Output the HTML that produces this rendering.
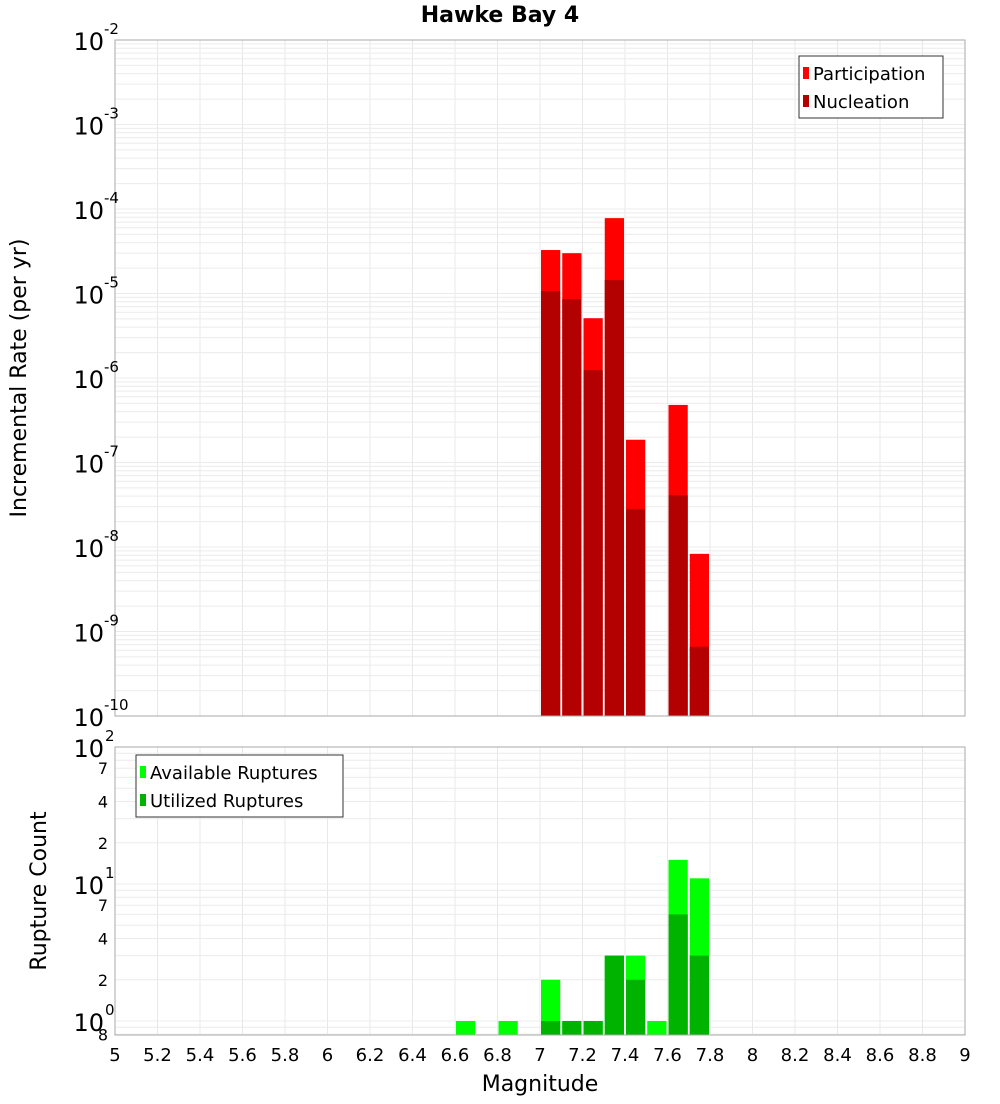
<!DOCTYPE html>
<html><head><meta charset="utf-8"><style>
body{margin:0;background:#fff;font-family:"DejaVu Sans","Liberation Sans",sans-serif}
svg text{font-family:"DejaVu Sans","Liberation Sans",sans-serif}
</style></head><body>
<svg id="c" width="1000" height="1100" xmlns="http://www.w3.org/2000/svg"></svg>
<script>
const binCenters=[7.05,7.15,7.25,7.35,7.45,7.65,7.75];
const participation=[3.27e-5,3.0e-5,5.1e-6,7.8e-5,1.86e-7,4.8e-7,8.3e-9];
const nucleation=[1.07e-5,8.6e-6,1.24e-6,1.44e-5,2.8e-8,4.1e-8,6.6e-10];
const countCenters=[6.65,6.85,7.05,7.15,7.25,7.35,7.45,7.55,7.65,7.75];
const available=[1,1,2,1,1,3,3,1,15,11];
const utilized=[0,0,1,1,1,3,2,0,6,3];
const xTicks=[5,5.2,5.4,5.6,5.8,6,6.2,6.4,6.6,6.8,7,7.2,7.4,7.6,7.8,8,8.2,8.4,8.6,8.8,9];
const topExps=[-2,-3,-4,-5,-6,-7,-8,-9,-10];
const botTicks=[[100,"10","2"],[70,"7"],[40,"4"],[20,"2"],[10,"10","1"],[7,"7"],[4,"4"],[2,"2"],[1,"10","0"],[0.8,"8"]];

const S="http://www.w3.org/2000/svg",svg=document.getElementById('c');
function el(t,a,p){const e=document.createElementNS(S,t);for(const k in a)e.setAttribute(k,a[k]);(p||svg).appendChild(e);return e;}
const L=115,R=965;
const x=v=>L+(v-5)/4*(R-L);
const T0=40,T1=716,yT=v=>T0+(-2-Math.log10(v))/8*(T1-T0);
const B0=747,B1=1035,yB=v=>1021-Math.log10(v)*137;

let t=el('text',{x:500,y:22,'text-anchor':'middle','font-size':22,'font-weight':'bold'});t.textContent='Hawke Bay 4';


// grids
const g=el('g',{});
xTicks.forEach(v=>{el('line',{x1:x(v),x2:x(v),y1:T0,y2:T1,stroke:'#e8e8e8'},g);el('line',{x1:x(v),x2:x(v),y1:B0,y2:B1,stroke:'#e8e8e8'},g);});
for(let e=-10;e<-2;e++)for(let m=1;m<10;m++){const y=yT(m*Math.pow(10,e));el('line',{x1:L,x2:R,y1:y,y2:y,stroke:'#ececec'},g);}
for(let e=-1;e<2;e++)for(let m=1;m<10;m++){const y=yB(m*Math.pow(10,e));if(y>B0&&y<B1)el('line',{x1:L,x2:R,y1:y,y2:y,stroke:'#ececec'},g);}

// top bars
const bw=(x(0.1)-x(0))-2;
binCenters.forEach((c,i)=>{
 let r=el('rect',{x:x(c)-bw/2,y:yT(participation[i]),width:bw,height:T1-yT(participation[i]),fill:'#ff0000'});
 
 r=el('rect',{x:x(c)-bw/2,y:yT(nucleation[i]),width:bw,height:T1-yT(nucleation[i]),fill:'#b30000'});
 
});
countCenters.forEach((c,i)=>{
 let r=el('rect',{x:x(c)-bw/2,y:yB(available[i]),width:bw,height:B1-yB(available[i]),fill:'#00ff00'});
 
 if(utilized[i]>0){r=el('rect',{x:x(c)-bw/2,y:yB(utilized[i]),width:bw,height:B1-yB(utilized[i]),fill:'#00b300'});
 }
});
el('rect',{x:L,y:T0,width:R-L,height:T1-T0,fill:'none',stroke:'#aaa'});
el('rect',{x:L,y:B0,width:R-L,height:B1-B0,fill:'none',stroke:'#aaa'});

// top y ticks
topExps.forEach(e=>{const y=yT(Math.pow(10,e));
 const tt=el('text',{x:104,y:y+10,'text-anchor':'end','font-size':24});tt.textContent='10';
 
 const s=el('text',{x:104,y:y-6,'font-size':15});s.textContent=String(e);});
botTicks.forEach(b=>{const y=yB(b[0]);
 if(b.length==3){const tt=el('text',{x:104,y:y+10,'text-anchor':'end','font-size':24});tt.textContent=b[1];
  const s=el('text',{x:105,y:y-6,'font-size':15});s.textContent=b[2];}
 else{const tt=el('text',{x:108,y:y+6,'text-anchor':'end','font-size':16});tt.textContent=b[1];}
});
xTicks.forEach(v=>{const tt=el('text',{x:x(v),y:1061,'text-anchor':'middle','font-size':18});tt.textContent=String(v);
 });
t=el('text',{x:540,y:1091,'text-anchor':'middle','font-size':22});t.textContent='Magnitude';

t=el('text',{x:0,y:0,'text-anchor':'middle','font-size':22,transform:'translate(26,378) rotate(-90)'});t.textContent='Incremental Rate (per yr)';

t=el('text',{x:0,y:0,'text-anchor':'middle','font-size':22,transform:'translate(46,891) rotate(-90)'});t.textContent='Rupture Count';


// legends
function legend(x0,y0,w,items,name){const lg=el('g',{});
 el('rect',{x:x0,y:y0,width:w,height:62,fill:'#fff',stroke:'#333'},lg);
 items.forEach((it,i)=>{el('rect',{x:x0+4,y:y0+11+i*28,width:6,height:12,fill:it[1]},lg);
  const tt=el('text',{x:x0+14,y:y0+24+i*28,'font-size':18},lg);tt.textContent=it[0];});}
legend(799,56,144,[['Participation','#ff0000'],['Nucleation','#b30000']],'legend-top');
legend(136,755,207,[['Available Ruptures','#00ff00'],['Utilized Ruptures','#00b300']],'legend-bottom');
</script>
</body></html>
